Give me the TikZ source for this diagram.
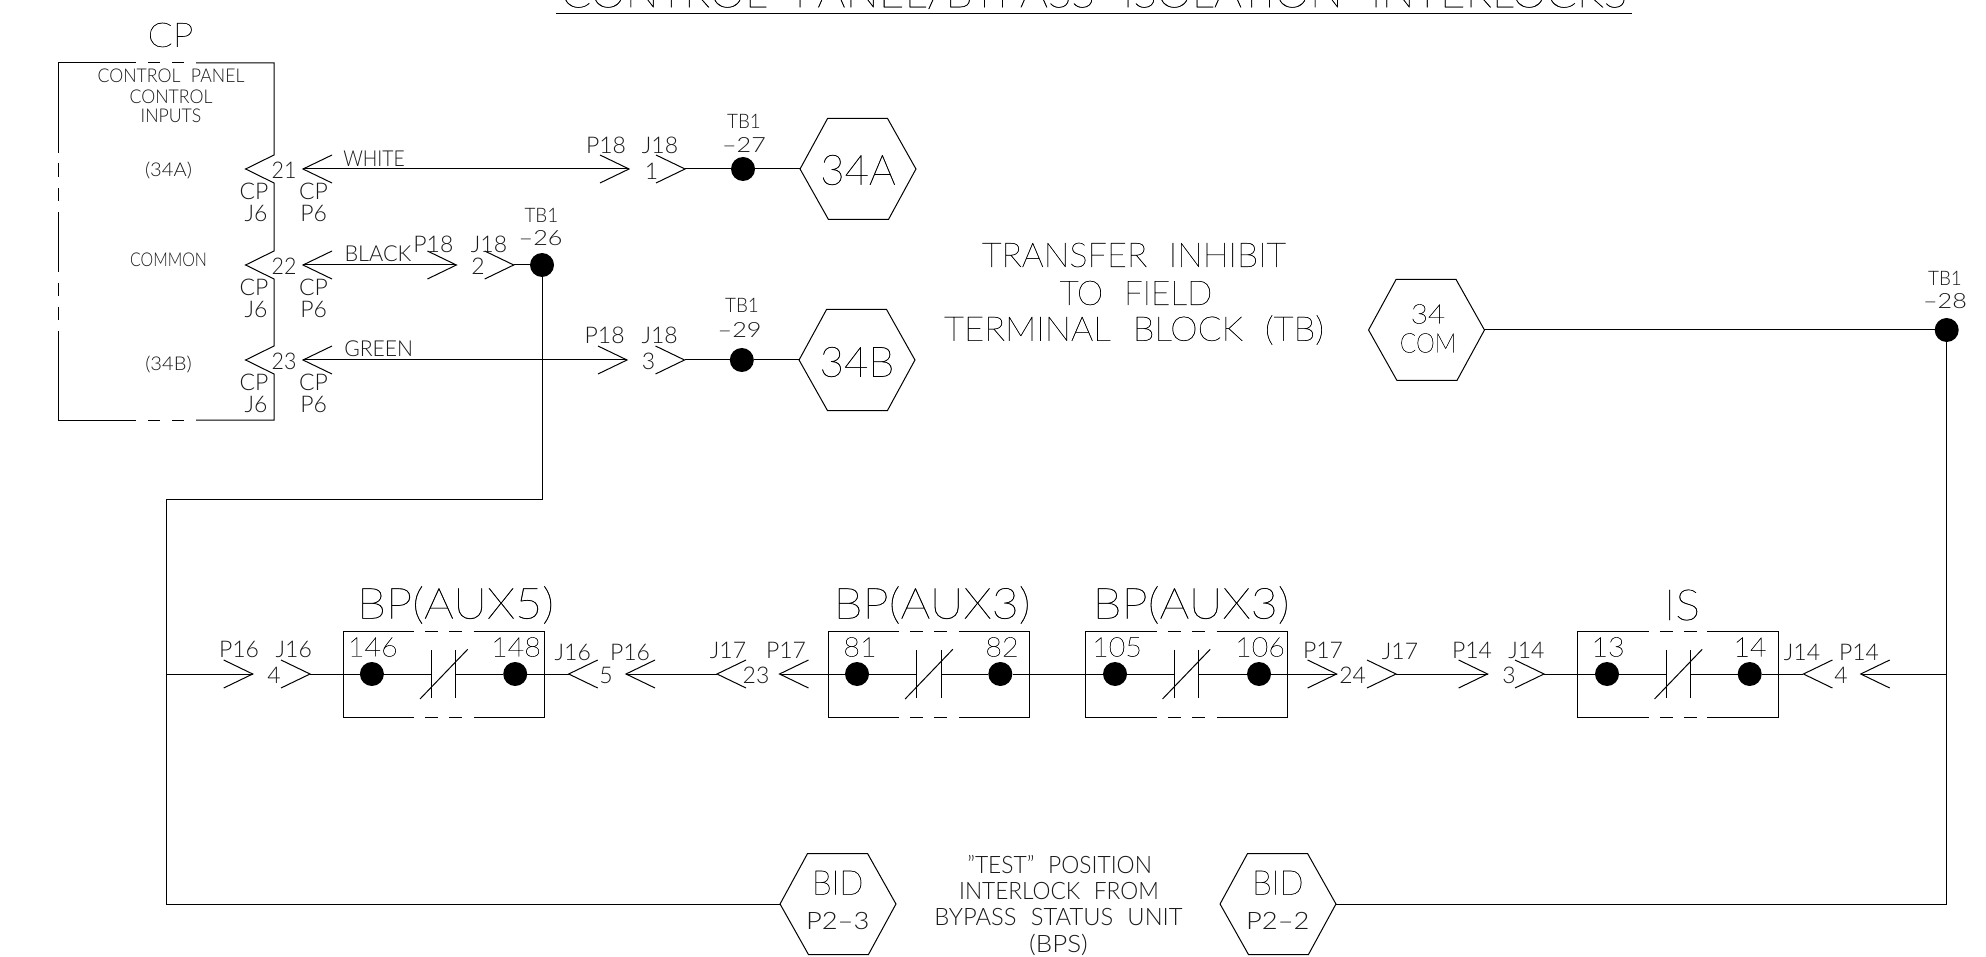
\documentclass[tikz,border=0pt]{standalone}
\usepackage{fontspec}
\usepackage{graphicx}
\setmainfont{Lato}[UprightFont={* Light},WordSpace=2.2]
\newfontfamily\thinfont{Lato}[UprightFont={* Thin},WordSpace=2.2,FakeBold=0.6]
\newcommand{\sx}[2]{\scalebox{#1}[1]{#2}}
\tikzset{
  wire/.style={line width=1pt,line cap=butt},
  t/.style={font=\fontsize{#1}{#1}\selectfont,inner sep=0pt,text=black!90},
  big/.style={font=\thinfont\fontsize{#1}{#1}\selectfont,inner sep=0pt,text=black},
  termdot/.style={circle,fill=black,draw=none,minimum size=24pt,inner sep=0pt},
  hexbox/.style={rectangle,draw=none,minimum width=115.5pt,minimum height=101pt,inner sep=0pt},
}
\newcommand{\hexnode}[3]{%
  \node[hexbox] (#1) at (#2,#3) {};
  \draw[wire] (#1.west) -- ++(27.5,-50.5) -- ++(60,0) -- (#1.east) -- ++(-27.5,50.5) -- ++(-60,0) -- cycle;}
\newcommand{\chevR}[3]{\coordinate (#1) at (#2,#3); \draw[wire] (#1) ++(-29,-14) -- (#1) -- ++(-29,14);}
\newcommand{\chevL}[3]{\coordinate (#1) at (#2,#3); \draw[wire] (#1) ++(29,-14) -- (#1) -- ++(29,14);}
\newcommand{\contactbox}[3]{% name, left x, right x
  \coordinate (#1nw) at (#2,631); \coordinate (#1ne) at (#3,631);
  \coordinate (#1sw) at (#2,717); \coordinate (#1se) at (#3,717);
  \draw[wire] ($(#1nw)+(70.7,0)$) -- (#1nw) -- (#1sw) -- ($(#1sw)+(70.7,0)$);
  \draw[wire] ($(#1ne)+(-71,0)$) -- (#1ne) -- (#1se) -- ($(#1se)+(-71,0)$);
  \draw[wire] ($(#1nw)+(82,0)$) -- ++(13,0) ($(#1nw)+(106,0)$) -- ++(13,0);
  \draw[wire] ($(#1sw)+(82,0)$) -- ++(13,0) ($(#1sw)+(106,0)$) -- ++(13,0);
  \coordinate (#1a) at ($(#1nw)+(88.4,43)$);
  \coordinate (#1b) at ($(#1nw)+(112.6,43)$);
  \draw[wire] (#1a) ++(0,-24) -- ++(0,48);
  \draw[wire] (#1b) ++(0,-24) -- ++(0,48);
  \draw[wire] ($(#1a)+(-11.7,25)$) -- ($(#1a)+(36,-24.7)$);}
\usetikzlibrary{calc}
\begin{document}
\begin{tikzpicture}[x=1pt,y=-1pt]
\useasboundingbox (0,0) rectangle (1986,957);
% title
\node[big=42] (title) at (1094,-7) {\sx{1.055}{CONTROL PANEL/BYPASS ISOLATION INTERLOCKS}};
\draw[wire] (556,14) -- (1632,14);
% CP block
\node[big=34] (cp) at (170.5,35) {\sx{1.085}{CP}};
\node[t=19] (l1) at (171,76) {\sx{.93}{CONTROL PANEL}};
\node[t=19] (l2) at (171,97) {\sx{.93}{CONTROL}};
\node[t=19] (l3) at (171,116) {\sx{.93}{INPUTS}};
\node[t=19] (s1) at (168.5,171) {\sx{1.06}{(34A)}};
\node[t=19] (s2) at (168.5,260) {\sx{.84}{COMMON}};
\node[t=19] (s3) at (168.5,365) {\sx{1.06}{(34B)}};
\draw[wire] (136,63) -- (58.6,63) -- (58.6,152.7);
\draw[wire] (148,63) -- (160,63) (172,63) -- (184,63);
\draw[wire] (196,63) -- (274,63) -- (274,155) -- (245.6,169) -- (274,183) -- (274,251) -- (245.6,265) -- (274,279) -- (274,346) -- (245.6,360) -- (274,374) -- (274,420) -- (196,420);
\draw[wire] (172,420) -- (184,420) (148,420) -- (160,420) (136,420) -- (58.6,420) -- (58.6,331);
\draw[wire] (58.6,163) -- (58.6,177) (58.6,188) -- (58.6,201) (58.6,212) -- (58.6,272) (58.6,283) -- (58.6,296) (58.6,307) -- (58.6,320);
\foreach \n/\y in {a/169,b/265,c/360}{
  \node[t=23] (cpj\n) at (254,\y+22) {CP};
  \node[t=23] (jsix\n) at (256,\y+44) {J6};
  \node[t=23] (cpp\n) at (313.6,\y+22) {CP};
  \node[t=23] (psix\n) at (313.6,\y+44) {P6};
}
\node[t=23] (n21) at (284,170) {\sx{.93}{21}};
\node[t=23] (n22) at (284,266) {\sx{.93}{22}};
\node[t=23] (n23) at (284,361) {\sx{.93}{23}};
% wires row 1
\chevL{a1}{303}{169} \chevR{a2}{629}{169} \chevR{a3}{685}{169}
\draw[wire] (a1) -- (a2);
\node[t=22] (white) at (374,159) {\sx{.875}{WHITE}};
\node[t=23] at (606,145) {P18};
\node[t=23] at (660,145) {J18};
\node[t=23] at (651.5,171) {1};
\node[termdot] (d27) at (743,169) {};
\node[t=20] at (744,121) {\sx{.94}{TB1}};
\node[t=21] at (744,145) {\sx{1.2}{--27}};
\hexnode{h34a}{858}{169}
\node[big=42] at (858,170) {\sx{1.0}{34A}};
\draw[wire] (a3) -- (d27) -- (h34a.west);
% row 2
\chevL{b1}{303}{265} \chevR{b2}{456.4}{265} \chevR{b3}{513.7}{265}
\draw[wire] (b1) -- (b2);
\node[t=22] (black) at (378,254) {\sx{.985}{BLACK}};
\node[t=23] at (433.4,244) {P18};
\node[t=23] at (489,244) {J18};
\node[t=23] at (478,266) {2};
\node[termdot] (d26) at (542,265) {};
\node[t=20] at (541.4,215) {\sx{.94}{TB1}};
\node[t=21] at (540.6,238) {\sx{1.2}{--26}};
\draw[wire] (b3) -- (d26);
% row 3
\chevL{c1}{303}{360} \chevR{c2}{627}{360} \chevR{c3}{684.5}{360}
\draw[wire] (c1) -- (c2);
\node[t=22] (green) at (378.7,349) {\sx{.96}{GREEN}};
\node[t=23] at (604.6,335) {P18};
\node[t=23] at (659.6,335) {J18};
\node[t=23] at (648.6,361) {3};
\node[termdot] (d29) at (741.8,360) {};
\node[t=20] at (742,305) {\sx{.94}{TB1}};
\node[t=21] at (739.6,330) {\sx{1.2}{--29}};
\hexnode{h34b}{857}{360}
\node[big=42] at (857,362) {\sx{1.0}{34B}};
\draw[wire] (c3) -- (d29) -- (h34b.west);
% transfer text
\node[big=34] at (1134,255) {\sx{1.01}{TRANSFER INHIBIT}};
\node[big=34] at (1136,293) {\sx{.98}{TO FIELD}};
\node[big=34] at (1134,330) {\sx{1.03}{TERMINAL BLOCK (TB)}};
\hexnode{hcom}{1426.5}{330}
\node[big=27] at (1428,314) {\sx{1.1}{34}};
\node[big=27] at (1428,343) {\sx{.89}{COM}};
\node[termdot] (d28) at (1946.7,330) {};
\node[t=20] at (1945,278) {\sx{.94}{TB1}};
\node[t=21] at (1945,301) {\sx{1.2}{--28}};
\draw[wire] (hcom.east) -- (d28);
% bottom hexes
\hexnode{hbl}{838}{904}
\hexnode{hbr}{1278}{904}
\node[big=34] at (837.7,882.7) {\sx{.93}{BID}};
\node[t=24] at (837.7,921) {\sx{1.14}{P2--3}};
\node[big=34] at (1277.8,882.7) {\sx{.93}{BID}};
\node[t=24] at (1277.8,921) {\sx{1.14}{P2--2}};
\node[t=24] at (1059.6,865) {\sx{.95}{"TEST" POSITION}};
\node[t=24] at (1059,890.7) {\sx{.945}{INTERLOCK FROM}};
\node[t=24] at (1058.5,916.7) {\sx{.99}{BYPASS STATUS UNIT}};
\node[t=24] at (1058.5,945) {\sx{1.08}{(BPS)}};
% outer wires
\coordinate (cornerA) at (542,499);
\coordinate (cornerB) at (166,499);
\coordinate (cornerC) at (166,904);
\coordinate (cornerD) at (1946.7,904);
\coordinate (tapL) at (166,674);
\coordinate (tapR) at (1946.7,674);
\draw[wire] (d26) -- (cornerA) -- (cornerB) -- (cornerC) -- (hbl.west);
\draw[wire] (hbr.east) -- (cornerD) -- (d28);
% contact row
\chevR{e1}{252.7}{674} \chevR{e2}{310}{674}
\draw[wire] (tapL) -- (e1);
\node[t=23] at (239,649) {P16};
\node[t=23] at (293.8,649) {J16};
\node[t=23] at (274,675) {4};
\contactbox{ba}{343.3}{544.6}
\node[big=43] at (455.5,605) {\sx{1.09}{BP(AUX5)}};
\node[termdot] (d1a) at (371.9,674) {};
\node[termdot] (d1b) at (515.2,674) {};
\node[big=27] at (372.8,647) {\sx{1.06}{146}};
\node[big=27] at (516,647) {\sx{1.06}{148}};
\draw[wire] (e2) -- (d1a) -- (baa) (bab) -- (d1b);
\chevL{f1}{568.7}{674} \chevL{f2}{626}{674} \chevL{g1}{717}{674} \chevL{g2}{779.5}{674}
\draw[wire] (d1b) -- (f1);
\draw[wire] (f2) -- (g1);
\node[t=23] at (572.8,652) {J16};
\node[t=23] at (606,675) {5};
\node[t=23] at (630,652) {P16};
\node[t=23] at (728,650) {J17};
\node[t=23] at (756,675) {23};
\node[t=23] at (786,650) {P17};
\contactbox{bb}{828.4}{1029.7}
\node[big=43] at (932,605) {\sx{1.09}{BP(AUX3)}};
\node[termdot] (d2a) at (857,674) {};
\node[termdot] (d2b) at (1000.3,674) {};
\node[big=27] at (860,647) {\sx{1.06}{81}};
\node[big=27] at (1002,647) {\sx{1.06}{82}};
\draw[wire] (g2) -- (d2a) -- (bba) (bbb) -- (d2b);
\contactbox{bc}{1085.8}{1287.6}
\node[big=43] at (1191,605) {\sx{1.09}{BP(AUX3)}};
\node[termdot] (d3a) at (1115,674) {};
\node[termdot] (d3b) at (1259,674) {};
\node[big=27] at (1117,647) {\sx{1.06}{105}};
\node[big=27] at (1260,647) {\sx{1.06}{106}};
\draw[wire] (d2b) -- (d3a) -- (bca) (bcb) -- (d3b);
\chevR{h1}{1336.6}{674} \chevR{h2}{1396}{674} \chevR{i1}{1487.6}{674} \chevR{i2}{1544}{674}
\draw[wire] (d3b) -- (h1);
\draw[wire] (h2) -- (i1);
\node[t=23] at (1323,650) {P17};
\node[t=23] at (1352.7,675) {24};
\node[t=23] at (1400,651) {J17};
\node[t=23] at (1472,650) {P14};
\node[t=23] at (1509,675) {3};
\node[t=23] at (1526.4,650) {J14};
\contactbox{bd}{1577.8}{1778.4}
\node[big=43] at (1682,605) {\sx{1.09}{IS}};
\node[termdot] (d4a) at (1607,674) {};
\node[termdot] (d4b) at (1749.7,674) {};
\node[big=27] at (1608,647) {\sx{1.06}{13}};
\node[big=27] at (1750,647) {\sx{1.06}{14}};
\draw[wire] (i2) -- (d4a) -- (bda) (bdb) -- (d4b);
\chevL{j1}{1803.4}{674} \chevL{j2}{1860.7}{674}
\draw[wire] (d4b) -- (j1);
\draw[wire] (j2) -- (tapR);
\node[t=23] at (1802,652) {J14};
\node[t=23] at (1841,675) {4};
\node[t=23] at (1859,652) {P14};
\end{tikzpicture}
\end{document}
